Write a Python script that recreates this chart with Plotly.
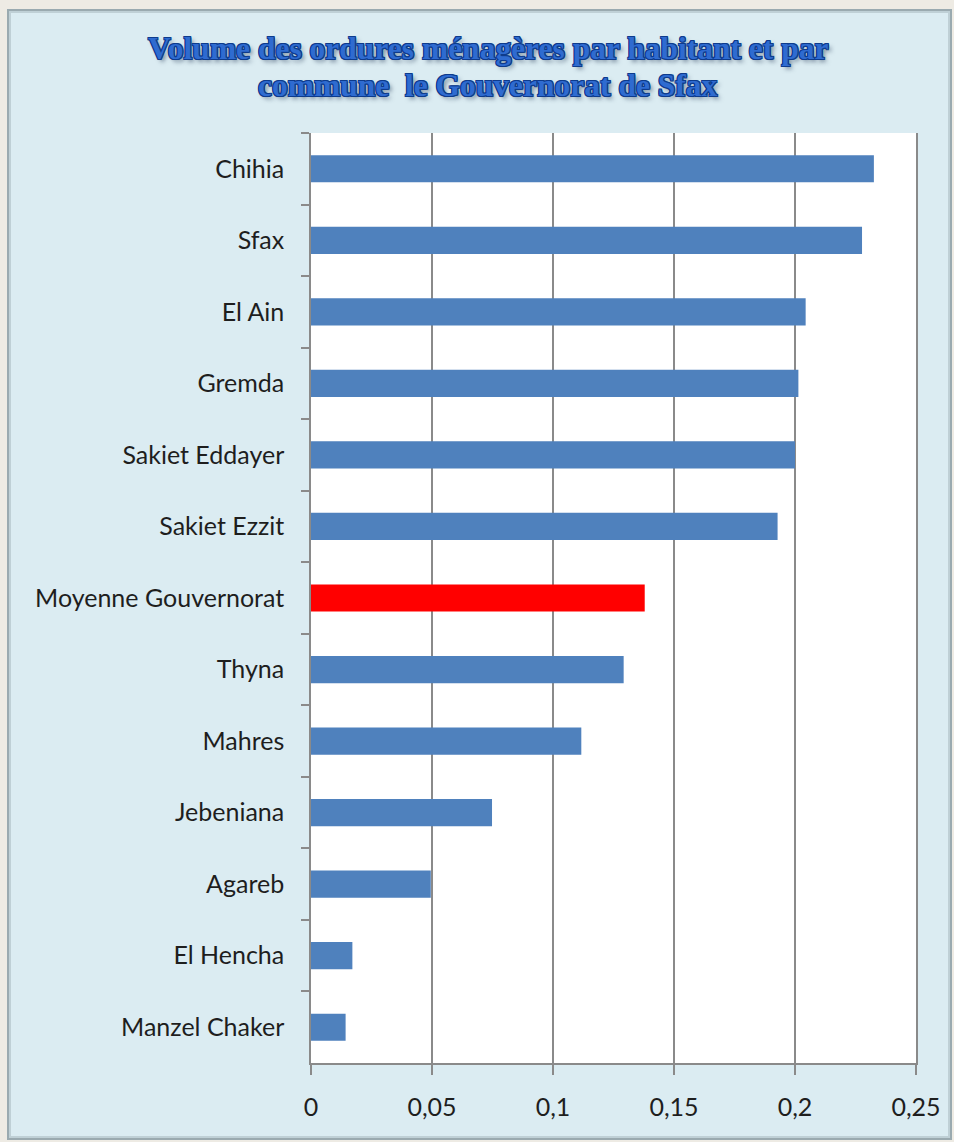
import plotly.graph_objects as go

# Communes, top to bottom, and household waste volume per inhabitant
communes = [
    "Chihia", "Sfax", "El Ain", "Gremda", "Sakiet Eddayer", "Sakiet Ezzit",
    "Moyenne Gouvernorat", "Thyna", "Mahres", "Jebeniana", "Agareb",
    "El Hencha", "Manzel Chaker",
]
volumes = [
    0.2326, 0.2277, 0.2044, 0.2014, 0.2000, 0.1928,
    0.1379, 0.1292, 0.1117, 0.0748, 0.0495,
    0.0171, 0.0143,
]
average_label = "Moyenne Gouvernorat"

x_tickvals = [0, 0.05, 0.1, 0.15, 0.2, 0.25]
x_ticktext = ["0", "0,05", "0,1", "0,15", "0,2", "0,25"]

title_lines = [
    "Volume des ordures ménagères par habitant et par",
    "commune&nbsp; le Gouvernorat de Sfax",
]

BLUE = "#4f81bd"
RED = "#ff0000"
bar_colors = [RED if c == average_label else BLUE for c in communes]

W, H = 954, 1142
L, R, T, B = 311, 38, 133, 79
PW, PH = W - L - R, H - T - B


def px_x(px):
    return (px - L) / PW


def px_y(py):
    return 1 - (py - T) / PH


fig = go.Figure(
    go.Bar(
        x=volumes,
        y=communes,
        orientation="h",
        marker=dict(color=bar_colors, line=dict(width=0)),
        hoverinfo="x+y",
    )
)

outline = "#0e3b8c"
shadow = ", ".join([
    f"1px 0 0 {outline}", f"-1px 0 0 {outline}", f"0 1px 0 {outline}",
    f"0 -1px 0 {outline}", f"1px 1px 0 {outline}", f"-1px -1px 0 {outline}",
    f"1px -1px 0 {outline}", f"-1px 1px 0 {outline}",
    "3px 3px 4px rgba(40,60,90,0.55)",
])
title_font = dict(family="Liberation Serif", size=31.5, color="#2f6bd0",
                  weight="bold", shadow=shadow)

tick_font = dict(size=25, family="Lato", color="#1e1e1e")

# two-line heading, each line placed on its own baseline
title_annotations = [
    dict(text=line, xref="paper", yref="paper", x=px_x(488), y=px_y(cy),
         xanchor="center", yanchor="middle", showarrow=False, font=title_font)
    for line, cy in zip(title_lines, [49, 85])
]

fig.update_layout(
    width=W,
    height=H,
    margin=dict(l=L, r=R, t=T, b=B),
    paper_bgcolor="#eeebe4",
    plot_bgcolor="white",
    bargap=0.62,
    showlegend=False,
    font=dict(family="Lato", color="#1e1e1e"),
    annotations=title_annotations,
    xaxis=dict(
        range=[0, 0.25],
        tickvals=x_tickvals,
        ticktext=x_ticktext,
        showgrid=True,
        gridcolor="#8a8a8a",
        gridwidth=1.5,
        zeroline=False,
        showline=True,
        linecolor="#8a8a8a",
        linewidth=1.5,
        ticks="outside",
        ticklen=10,
        tickwidth=1.5,
        tickcolor="#8a8a8a",
        tickfont=tick_font,
        ticklabelstandoff=11,
        fixedrange=True,
    ),
    yaxis=dict(
        autorange="reversed",
        showgrid=False,
        zeroline=False,
        showline=True,
        mirror=True,
        linecolor="#8a8a8a",
        linewidth=1.5,
        ticks="outside",
        tickson="boundaries",
        ticklen=8,
        tickwidth=1.5,
        tickcolor="#8a8a8a",
        tickfont=tick_font,
        ticklabelstandoff=20,
        fixedrange=True,
    ),
    shapes=[
        # light blue chart panel with a soft inset edge
        dict(type="rect", xref="paper", yref="paper", layer="below",
             x0=px_x(8), x1=px_x(951), y0=px_y(1139), y1=px_y(10),
             fillcolor="#dbecf2", line=dict(color="#9aaab0", width=2)),
        dict(type="rect", xref="paper", yref="paper", layer="below",
             x0=px_x(10), x1=px_x(949), y0=px_y(1137), y1=px_y(12),
             fillcolor="rgba(0,0,0,0)", line=dict(color="#bfd0d6", width=2)),
        # white plotting area
        dict(type="rect", xref="paper", yref="paper", layer="below",
             x0=0, x1=1, y0=0, y1=1,
             fillcolor="white", line=dict(width=0)),
    ],
)

fig.write_html("out.html")
